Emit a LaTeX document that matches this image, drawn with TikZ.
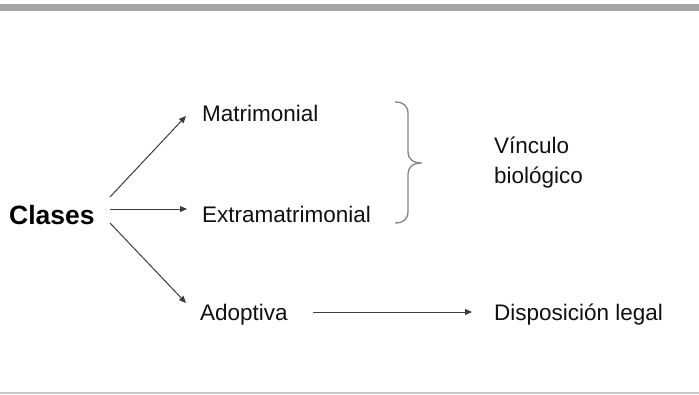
\documentclass[tikz,border=0pt]{standalone}
\usepackage{fontspec}
\setmainfont{Liberation Sans}
\usetikzlibrary{arrows.meta}
\definecolor{linegray}{HTML}{3C3C3C}
\definecolor{bracegray}{HTML}{858585}
\definecolor{bargray}{HTML}{A4A4A4}
\definecolor{botgray}{HTML}{C8C8C8}
\definecolor{txt}{HTML}{111111}
\tikzset{
  lbl/.style={anchor=base west, inner sep=0pt, text=txt, font=\fontsize{22.5}{27}\selectfont},
  big/.style={anchor=base west, inner sep=0pt, text=black, font=\fontsize{26.5}{30}\selectfont\bfseries},
  arr/.style={draw=linegray, line width=1pt, -{Triangle[length=7pt,width=6pt]}},
  brace/.style={draw=bracegray, line width=1.3pt}
}
\begin{document}
\begin{tikzpicture}[x=1pt,y=-1pt]
\useasboundingbox (0,0) rectangle (699,394);
\fill[white] (0,0) rectangle (699,394);
% top bar and bottom line
\fill[bargray] (0,4) rectangle (699,11);
\fill[botgray] (0,391.5) rectangle (699,394);
% nodes
\node[big] (clases) at (9,224) {Clases};
\node[lbl] (matri) at (202,121) {Matrimonial};
\node[lbl] (extra) at (202,222) {Extramatrimonial};
\node[lbl] (adop) at (200,320) {Adoptiva};
\node[lbl] (disp) at (494,320) {Disposición legal};
\node[lbl, align=left, anchor=base west] (vinc) at (494,183) {Vínculo\\[3pt]biológico};
% connector end points
\coordinate (s1) at (110,197);
\coordinate (e1) at (186,116);
\coordinate (s2) at (110,209);
\coordinate (e2) at (187,209);
\coordinate (s3) at (110,223);
\coordinate (e3) at (186,303);
\coordinate (s4) at (313,312);
\coordinate (e4) at (472,312);
\draw[arr] (s1) -- (e1);
\draw[arr] (s2) -- (e2);
\draw[arr] (s3) -- (e3);
\draw[arr] (s4) -- (e4);
% brace
\draw[brace] (395,102) .. controls (404,102) and (408,106) .. (408,114)
  -- (408,152) .. controls (408,159) and (413,163) .. (422,163)
  .. controls (413,163) and (408,167) .. (408,174)
  -- (408,211) .. controls (408,219) and (404,223) .. (395,223);
\end{tikzpicture}
\end{document}
